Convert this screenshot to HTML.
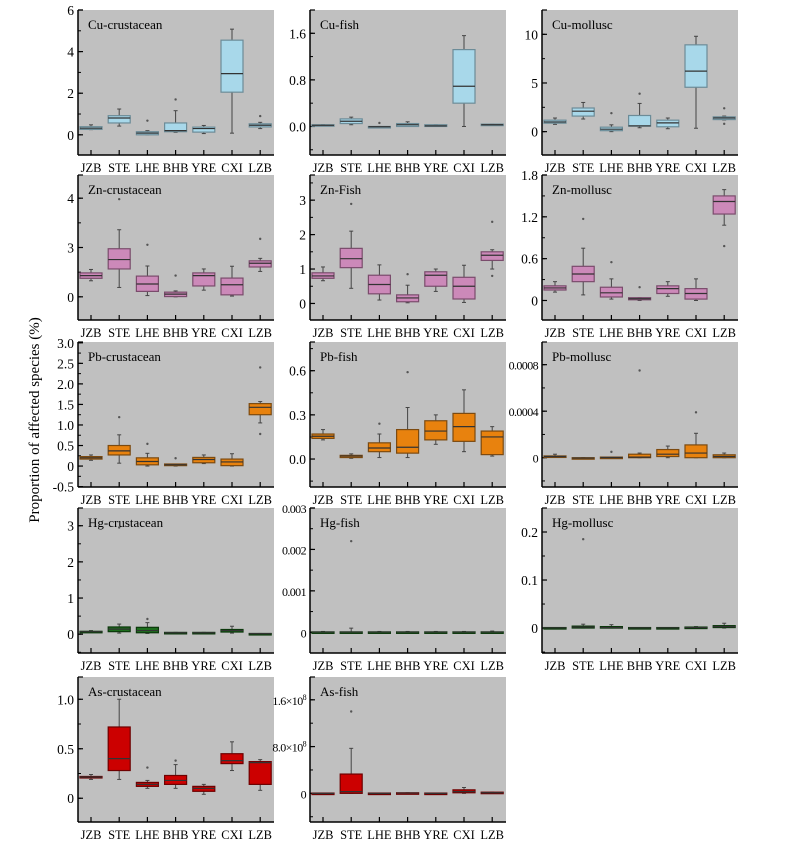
<!DOCTYPE html>
<html><head><meta charset="utf-8"><style>
html,body{margin:0;padding:0;background:#fff;}
svg{display:block;font-family:"Liberation Serif",serif;}
</style></head><body>
<svg id="chart" width="794" height="847" viewBox="0 0 794 847" xmlns="http://www.w3.org/2000/svg">
<text x="0" y="0" transform="translate(39,420) rotate(-90)" text-anchor="middle" font-size="15">Proportion of affected species (%)</text>
</svg>
<script>
const categories = ["JZB","STE","LHE","BHB","YRE","CXI","LZB"];
// box stats per site: [whiskerLow, q1, median, q3, whiskerHigh]
const cuCrustaceanBoxes = [[0.25,0.26,0.32,0.39,0.48],[0.42,0.57,0.81,0.92,1.24],[0,0,0.08,0.15,0.2],[0.12,0.15,0.2,0.57,1.16],[0.06,0.13,0.3,0.37,0.45],[0.08,2.05,2.94,4.55,5.08],[0.3,0.38,0.46,0.53,0.6]];
const cuCrustaceanOutliers = [[2,0.68],[3,1.7],[6,0.9]];
const cuFishBoxes = [[0.01,0.01,0.02,0.03,0.03],[0.03,0.05,0.09,0.13,0.16],[-0.01,-0.01,-0.005,0,0],[0,0,0.03,0.05,0.08],[0,0,0.01,0.03,0.03],[0,0.4,0.69,1.32,1.56],[0.02,0.02,0.03,0.04,0.04]];
const cuFishOutliers = [[2,0.06]];
const cuMolluscBoxes = [[0.75,0.87,1.0,1.18,1.4],[1.3,1.6,2.1,2.43,3.0],[0,0.1,0.25,0.46,0.7],[0.4,0.56,0.6,1.66,2.9],[0.3,0.5,0.9,1.18,1.4],[0.35,4.56,6.22,8.92,9.8],[1.2,1.24,1.4,1.52,1.6]];
const cuMolluscOutliers = [[2,1.9],[3,3.9],[6,2.4],[6,0.8]];
const znCrustaceanBoxes = [[0.65,0.75,0.86,0.97,1.11],[0.38,1.13,1.51,1.95,2.72],[0.05,0.22,0.52,0.84,1.25],[0,0.01,0.11,0.19,0.24],[0.27,0.44,0.86,0.97,1.13],[0.03,0.08,0.49,0.76,1.24],[1.03,1.21,1.36,1.46,1.56]];
const znCrustaceanOutliers = [[1,3.96],[2,2.11],[3,0.86],[6,2.35]];
const znFishBoxes = [[0.66,0.73,0.8,0.89,1.06],[0.44,1.04,1.3,1.6,2.1],[0.1,0.28,0.55,0.82,1.12],[0.02,0.05,0.16,0.25,0.53],[0.35,0.5,0.82,0.92,1.0],[0.03,0.13,0.5,0.76,1.11],[1.0,1.25,1.4,1.5,1.56]];
const znFishOutliers = [[1,2.89],[3,0.85],[6,2.37],[6,0.8]];
const znMolluscBoxes = [[0.12,0.15,0.18,0.21,0.27],[0.08,0.27,0.38,0.49,0.75],[0.02,0.05,0.11,0.19,0.31],[0,0.01,0.025,0.04,0.04],[0.06,0.1,0.17,0.21,0.27],[0,0.02,0.1,0.17,0.31],[1.08,1.24,1.42,1.5,1.59]];
const znMolluscOutliers = [[1,1.17],[2,0.55],[3,0.19],[6,0.78]];
const pbCrustaceanBoxes = [[0.14,0.17,0.2,0.23,0.27],[0.07,0.27,0.37,0.5,0.76],[0,0.03,0.11,0.2,0.31],[0,0.01,0.03,0.05,0.05],[0.06,0.08,0.16,0.21,0.27],[0,0.01,0.1,0.17,0.3],[1.05,1.25,1.43,1.52,1.57]];
const pbCrustaceanOutliers = [[1,1.19],[2,0.54],[3,0.19],[6,2.4],[6,0.78]];
const pbFishBoxes = [[0.13,0.14,0.155,0.17,0.2],[0.005,0.01,0.02,0.025,0.035],[0.01,0.05,0.075,0.11,0.17],[0.01,0.04,0.08,0.2,0.35],[0.1,0.13,0.19,0.26,0.3],[0.05,0.12,0.22,0.31,0.47],[0.02,0.03,0.15,0.19,0.22]];
const pbFishOutliers = [[2,0.24],[3,0.59]];
const pbMolluscBoxes = [[0.05,0.05,0.1,0.15,0.3],[-0.05,-0.05,-0.03,0,0],[0,0,0.02,0.05,0.05],[0,0,0.05,0.3,0.4],[0,0.1,0.3,0.7,1.0],[0,0,0.4,1.1,2.1],[0,0,0.1,0.25,0.4]]; // x1e-4
const pbMolluscOutliers = [[2,0.5],[3,7.5],[5,3.9]];
const hgCrustaceanBoxes = [[0.05,0.05,0.07,0.08,0.1],[0.03,0.07,0.14,0.2,0.28],[0.02,0.04,0.1,0.19,0.32],[0.03,0.03,0.04,0.05,0.05],[0.03,0.03,0.04,0.05,0.05],[0.03,0.06,0.1,0.13,0.22],[0.01,0.01,0.015,0.02,0.02]];
const hgCrustaceanOutliers = [[1,2.95],[2,0.42]];
const hgFishBoxes = [[0,0,0.005,0.01,0.02],[0,0,0.005,0.01,0.1],[0,0,0.005,0.01,0.02],[0,0,0.005,0.01,0.02],[0,0,0.005,0.01,0.02],[0,0,0.005,0.01,0.02],[0,0,0.005,0.01,0.03]]; // x1e-3
const hgFishOutliers = [[1,2.2]];
const hgMolluscBoxes = [[0,0,0.0005,0.001,0.001],[0,0,0.002,0.004,0.008],[0,0,0.001,0.003,0.007],[0,0,0.0005,0.001,0.001],[0,0,0.0005,0.001,0.001],[0,0,0.001,0.002,0.003],[0,0.001,0.003,0.005,0.01]];
const hgMolluscOutliers = [[1,0.185]];
const asCrustaceanBoxes = [[0.19,0.21,0.215,0.22,0.24],[0.19,0.28,0.40,0.72,1.0],[0.1,0.12,0.14,0.16,0.18],[0.1,0.14,0.18,0.23,0.34],[0.04,0.07,0.1,0.12,0.14],[0.28,0.35,0.38,0.45,0.57],[0.08,0.14,0.36,0.37,0.39]];
const asCrustaceanOutliers = [[2,0.31],[3,0.38]];
const asFishBoxes = [[0,0,0,0.05,0.05],[0,0,0.3,3.3,7.7],[0,0,0,0.05,0.05],[0,0,0.05,0.1,0.1],[0,0,0,0.05,0.05],[0,0.1,0.3,0.6,1.0],[0,0.05,0.1,0.2,0.2]]; // x1e8
const asFishOutliers = [[1,14.0]];

const tickValsCu = [[0,2,4,6],[0,0.8,1.6],[0,5,10]];
const tickLabelsCu = [["0","2","4","6"],["0.0","0.8","1.6"],["0","5","10"]];

const colors = {blue:["#a8d8ea","#6c8c98"],pink:["#cc89b9","#7a4c6c"],orange:["#e8820e","#7c4a10"],green:["#1d6e1d","#0c380c"],red:["#cc0000","#6e0000"]};
const panels = [
 {t:"Cu-crustacean",c:0,r:0,y0:-0.97,y1:6.0,tv:tickValsCu[0],tl:tickLabelsCu[0],mn:1,col:"blue",b:cuCrustaceanBoxes,o:cuCrustaceanOutliers},
 {t:"Cu-fish",c:1,r:0,y0:-0.49,y1:2.0,tv:tickValsCu[1],tl:tickLabelsCu[1],mn:0.4,col:"blue",b:cuFishBoxes,o:cuFishOutliers},
 {t:"Cu-mollusc",c:2,r:0,y0:-2.4,y1:12.5,tv:tickValsCu[2],tl:tickLabelsCu[2],mn:2.5,col:"blue",b:cuMolluscBoxes,o:cuMolluscOutliers},
 {t:"Zn-crustacean",c:0,r:1,y0:-0.94,y1:4.94,tv:[0,2,4],tl:["0","3","4"],mn:1,col:"pink",b:znCrustaceanBoxes,o:znCrustaceanOutliers},
 {t:"Zn-Fish",c:1,r:1,y0:-0.48,y1:3.73,tv:[0,1,2,3],tl:["0","1","2","3"],mn:0.5,col:"pink",b:znFishBoxes,o:znFishOutliers},
 {t:"Zn-mollusc",c:2,r:1,y0:-0.28,y1:1.8,tv:[0,0.6,1.2,1.8],tl:["0","0.6","1.2","1.8"],mn:0.3,col:"pink",b:znMolluscBoxes,o:znMolluscOutliers},
 {t:"Pb-crustacean",c:0,r:2,y0:-0.51,y1:3.02,tv:[-0.5,0,0.5,1,1.5,2,2.5,3],tl:["-0.5","0","0.5","1.0","1.5","2.0","2.5","3.0"],mn:0.25,col:"orange",b:pbCrustaceanBoxes,o:pbCrustaceanOutliers},
 {t:"Pb-fish",c:1,r:2,y0:-0.19,y1:0.795,tv:[0,0.3,0.6],tl:["0.0","0.3","0.6"],mn:0.15,col:"orange",b:pbFishBoxes,o:pbFishOutliers},
 {t:"Pb-mollusc",c:2,r:2,y0:-2.52,y1:9.95,tv:[0,4,8],tl:["0","0.0004","0.0008"],mn:2,col:"orange",b:pbMolluscBoxes,o:pbMolluscOutliers,small:true},
 {t:"Hg-crustacean",c:0,r:3,y0:-0.52,y1:3.49,tv:[0,1,2,3],tl:["0","1","2","3"],mn:0.5,col:"green",b:hgCrustaceanBoxes,o:hgCrustaceanOutliers},
 {t:"Hg-fish",c:1,r:3,y0:-0.5,y1:3.0,tv:[0,1,2,3],tl:["0","0.001","0.002","0.003"],mn:0.5,col:"green",b:hgFishBoxes,o:hgFishOutliers,small:true},
 {t:"Hg-mollusc",c:2,r:3,y0:-0.052,y1:0.25,tv:[0,0.1,0.2],tl:["0","0.1","0.2"],mn:0.05,col:"green",b:hgMolluscBoxes,o:hgMolluscOutliers},
 {t:"As-crustacean",c:0,r:4,y0:-0.24,y1:1.225,tv:[0,0.5,1.0],tl:["0","0.5","1.0"],mn:0.25,col:"red",b:asCrustaceanBoxes,o:asCrustaceanOutliers},
 {t:"As-fish",c:1,r:4,y0:-4.9,y1:19.9,tv:[0,8,16],tl:["0","8.0×10|8","1.6×10|8"],mn:4,col:"red",b:asFishBoxes,o:asFishOutliers,small:true}
];
const colLeft=[78,310,542], rowTop=[10,175,342,508,677], PW=196, PH=145;
const svg=document.getElementById('chart');
const NS="http://www.w3.org/2000/svg";
function mk(tag,attrs,parent){const e=document.createElementNS(NS,tag);for(const k in attrs)e.setAttribute(k,attrs[k]);(parent||svg).appendChild(e);return e;}
panels.forEach(p=>{
  const L=colLeft[p.c],T=rowTop[p.r],B=T+PH,R=L+PW;
  const slug=p.t.toLowerCase();
  const g=mk('g',{});
  
  
  const yS=v=>B-(v-p.y0)/(p.y1-p.y0)*PH;
  const xS=i=>L+13+i*28.2;
  const bg=mk('rect',{x:L,y:T,width:PW,height:PH,fill:"#c0c0c0"},g);
  
  
  for(let v=Math.ceil(p.y0/p.mn)*p.mn; v<=p.y1+1e-9; v+=p.mn){
    const y=yS(v); mk('line',{x1:L,x2:L+3,y1:y,y2:y,stroke:"#000","stroke-width":1},g);
  }
  p.tv.forEach((v,i)=>{
    const y=yS(v);
    mk('line',{x1:L,x2:L+5,y1:y,y2:y,stroke:"#000","stroke-width":1.2},g);
    const tx=mk('text',{x:L-4,y:y+5,"text-anchor":"end","font-size":p.small?12:13.5,"letter-spacing":p.small?-0.6:0},g);
    
    
    const parts=p.tl[i].split('|');
    tx.textContent=parts[0];
    if(parts[1]){const s=mk('tspan',{dy:-5,"font-size":8},tx);s.textContent=parts[1];}
  });
  categories.forEach((c,i)=>{
    const x=xS(i);
    mk('line',{x1:x,x2:x,y1:B,y2:B-5,stroke:"#000","stroke-width":1.2},g);
    const tx=mk('text',{x:x,y:B+17,"text-anchor":"middle","font-size":12.5},g);
    
    
    tx.textContent=c;
  });
  const [fill,stroke]=colors[p.col];
  p.b.forEach((d,i)=>{
    const x=xS(i), w=22;
    const bx=mk('g',{},g);
    
    
    mk('line',{x1:x,x2:x,y1:yS(d[0]),y2:yS(d[1]),stroke:"#444","stroke-width":1},bx);
    mk('line',{x1:x,x2:x,y1:yS(d[3]),y2:yS(d[4]),stroke:"#444","stroke-width":1},bx);
    mk('line',{x1:x-2,x2:x+2,y1:yS(d[0]),y2:yS(d[0]),stroke:"#444","stroke-width":1},bx);
    mk('line',{x1:x-2,x2:x+2,y1:yS(d[4]),y2:yS(d[4]),stroke:"#444","stroke-width":1},bx);
    const h=Math.max(1.5,yS(d[1])-yS(d[3]));
    mk('rect',{x:x-w/2,y:yS(d[3]),width:w,height:h,fill:fill,stroke:stroke,"stroke-width":1.2},bx);
    mk('line',{x1:x-w/2,x2:x+w/2,y1:yS(d[2]),y2:yS(d[2]),stroke:"#333","stroke-width":1.2},bx);
  });
  p.o.forEach(o=>{
    const c=mk('circle',{cx:xS(o[0]),cy:yS(o[1]),r:1.2,fill:"#555"},g);
    
    
  });
  mk('line',{x1:L,x2:L,y1:T,y2:B,stroke:"#000","stroke-width":1.5},g);
  mk('line',{x1:L,x2:R,y1:B,y2:B,stroke:"#000","stroke-width":1.5},g);
  mk('line',{x1:L,x2:L+5,y1:T,y2:T,stroke:"#000","stroke-width":1.2},g);
  const tt=mk('text',{x:L+10,y:T+19,"font-size":13},g);
  
  
  tt.textContent=p.t;
});
</script>
</body></html>
